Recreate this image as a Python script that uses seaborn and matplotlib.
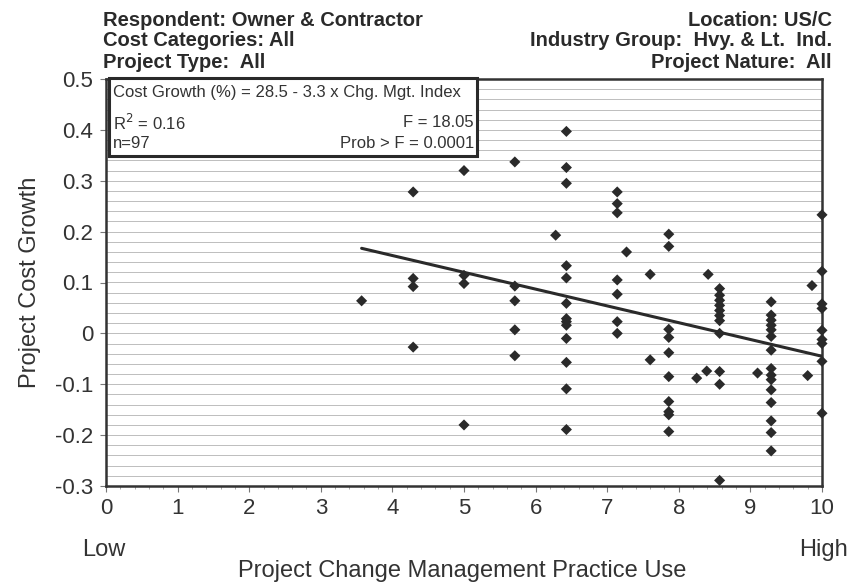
import numpy as np
import pandas as pd
import matplotlib
matplotlib.use("Agg")
import matplotlib.pyplot as plt
from matplotlib.patches import Rectangle
from matplotlib.ticker import MultipleLocator
import seaborn as sns

# change management index (x) and project cost growth (y)
cm_index = ([3.57] + [4.29] * 4 + [5.0] * 4 + [5.71] * 5 + [6.28] + [6.43] * 13
            + [7.14] * 7 + [7.27] + [7.6] * 2 + [7.86] * 10 + [8.25, 8.39, 8.41]
            + [8.57] * 11 + [9.1] + [9.29] * 15 + [9.8, 9.86] + [10.0] * 9)
cost_growth = [0.064,
               0.278, 0.108, 0.092, -0.027,
               0.320, 0.114, 0.098, -0.180,
               0.337, 0.093, 0.064, 0.007, -0.044,
               0.193,
               0.397, 0.326, 0.295, 0.133, 0.109, 0.059, 0.029, 0.023, 0.016,
               -0.010, -0.057, -0.109, -0.189,
               0.278, 0.255, 0.237, 0.105, 0.077, 0.023, 0.0,
               0.160,
               0.116, -0.052,
               0.195, 0.171, 0.008, -0.008, -0.038, -0.085, -0.134, -0.154, -0.160, -0.193,
               -0.088, -0.074, 0.116,
               0.088, 0.075, 0.065, 0.055, 0.045, 0.035, 0.025, 0.0, -0.075, -0.100, -0.289,
               -0.078,
               0.062, 0.036, 0.026, 0.016, 0.007, -0.006, -0.033, -0.069, -0.082, -0.091,
               -0.111, -0.136, -0.172, -0.195, -0.231,
               -0.083, 0.094,
               0.233, 0.122, 0.058, 0.049, 0.006, -0.012, -0.020, -0.055, -0.157]

# fitted line: Cost Growth (%) = 28.5 - 3.3 x index
intercept = 0.285
slope = -0.033

x_ticks = list(range(0, 11))
y_ticks = [0.5, 0.4, 0.3, 0.2, 0.1, 0, -0.1, -0.2, -0.3]
y_labels = ["0.5", "0.4", "0.3", "0.2", "0.1", "0", "-0.1", "-0.2", "-0.3"]

df = pd.DataFrame({"x": cm_index, "y": cost_growth})
fit_x = [min(cm_index), max(cm_index)]
fit = pd.DataFrame({"x": fit_x, "y": [intercept + slope * v for v in fit_x]})

sns.set_style("ticks")
plt.rcParams["font.family"] = ["Liberation Sans", "DejaVu Sans"]
txt = "#333333"

fig = plt.figure(figsize=(8.54, 5.85), dpi=100)
ax = fig.add_axes([106 / 854, 1 - 486 / 585, 716 / 854, 407 / 585])

# faint scan-like horizontal rules
for yy in np.arange(-0.3, 0.5, 0.02):
    ax.axhline(yy, color="#bdbdbd", lw=0.7, zorder=0)

sns.lineplot(data=fit, x="x", y="y", color="#2a2a2a", lw=2.2, ax=ax, zorder=3)
sns.scatterplot(data=df, x="x", y="y", marker="D", s=32, color="#2a2a2a",
                edgecolor="none", ax=ax, zorder=4, clip_on=False)

ax.set_xlim(0, 10)
ax.set_ylim(-0.3, 0.5)
ax.set_xticks(x_ticks)
ax.set_yticks(y_ticks)
ax.set_yticklabels(y_labels)
ax.xaxis.set_minor_locator(MultipleLocator(0.2))
ax.tick_params(axis="both", labelsize=16, color="#777777", length=4, width=0.8,
               labelcolor=txt, pad=5)
ax.tick_params(axis="x", which="minor", length=2, color="#999999")
for sp in ax.spines.values():
    sp.set_visible(True)
    sp.set_linewidth(1.8)
    sp.set_color("#333333")

ax.set_xlabel("")
ax.set_ylabel("Project Cost Growth", fontsize=17, color=txt, labelpad=10)
fig.text(462 / 854, 1 - 571 / 585, "Project Change Management Practice Use",
         ha="center", va="center", fontsize=17, color=txt)
fig.text(104 / 854, 1 - 550 / 585, "Low", ha="center", va="center",
         fontsize=17, color=txt)
fig.text(824 / 854, 1 - 550 / 585, "High", ha="center", va="center",
         fontsize=17, color=txt)

# header info
left_lines = ["Respondent: Owner & Contractor", "Cost Categories: All", "Project Type:  All"]
right_lines = ["Location: US/C", "Industry Group:  Hvy. & Lt.  Ind.", "Project Nature:  All"]
for i, (l, r) in enumerate(zip(left_lines, right_lines)):
    yy = 1 - (20 + i * 21) / 585
    fig.text(103 / 854, yy, l, ha="left", va="center", fontsize=14.5,
             fontweight="bold", color="#2a2a2a")
    fig.text(832 / 854, yy, r, ha="right", va="center", fontsize=14.5,
             fontweight="bold", color="#2a2a2a")

# stats box
ax.add_patch(Rectangle((0.004, 0.812), 0.514, 0.19, transform=ax.transAxes,
                       facecolor="white", edgecolor="#2a2a2a", lw=2.2,
                       zorder=5, clip_on=False))
fs = 12
ax.text(0.010, 0.966, "Cost Growth (%) = 28.5 - 3.3 x Chg. Mgt. Index",
        transform=ax.transAxes, ha="left", va="center", fontsize=fs,
        color=txt, zorder=6)
ax.text(0.010, 0.893, "R$^2$ = 0.16", transform=ax.transAxes, ha="left",
        va="center", fontsize=fs, color=txt, zorder=6)
ax.text(0.010, 0.842, "n=97", transform=ax.transAxes, ha="left",
        va="center", fontsize=fs, color=txt, zorder=6)
ax.text(0.514, 0.893, "F = 18.05", transform=ax.transAxes, ha="right",
        va="center", fontsize=fs, color=txt, zorder=6)
ax.text(0.514, 0.842, "Prob > F = 0.0001", transform=ax.transAxes, ha="right",
        va="center", fontsize=fs, color=txt, zorder=6)

fig.savefig("out.png", dpi=100, facecolor="white")
